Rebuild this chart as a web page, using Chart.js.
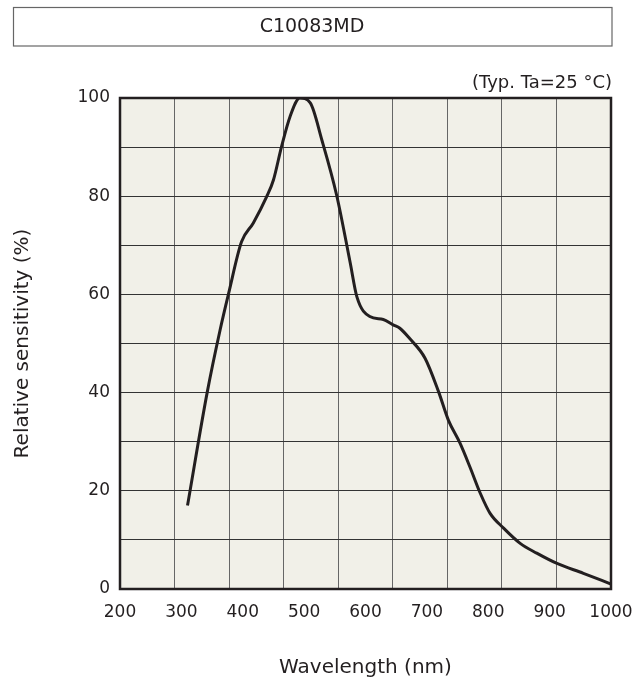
<!DOCTYPE html>
<html>
<head>
<meta charset="utf-8">
<script src="https://cdn.jsdelivr.net/npm/chart.js@4"></script>
<style>
  html, body { margin: 0; padding: 0; background: #fff; }
  #wrap { width: 644px; height: 682px; }
</style>
</head>
<body>
<div id="wrap"><canvas id="specChart" width="644" height="682"></canvas></div>
<script>
// spectral response data
const wavelengths = [310, 342, 363, 377, 398, 417, 439, 450, 463, 477, 493, 510, 529, 553, 575, 586, 607, 629, 645, 656, 672, 697, 719, 735, 754, 770, 787, 803, 825, 852, 879, 912, 955, 1000];
const sensitivity = [17, 40, 52.7, 60.2, 70.7, 74.5, 79.9, 83.3, 90, 96.2, 100, 99, 91.4, 80.2, 66.5, 59.5, 55.5, 54.9, 53.8, 53.1, 51, 47, 40.2, 34.4, 29.7, 24.9, 19.5, 15.4, 12.4, 9.3, 7.3, 5.2, 3.2, 1];
const xTicks = [200, 300, 400, 500, 600, 700, 800, 900, 1000];
const yTicks = [0, 20, 40, 60, 80, 100];

const FONT = '"DejaVu Sans", sans-serif';
const TEXT = '#231f20';

// plot background + frame + header box
const decor = {
  id: 'decor',
  beforeDraw(chart) {
    const { ctx, chartArea: a } = chart;
    ctx.save();
    ctx.fillStyle = '#f1f0e8';
    ctx.fillRect(a.left, a.top, a.right - a.left, a.bottom - a.top);
    ctx.restore();
  },
  afterDraw(chart) {
    const { ctx, chartArea: a } = chart;
    ctx.save();
    ctx.strokeStyle = '#231f20';
    ctx.lineWidth = 2.5;
    ctx.strokeRect(a.left, a.top, a.right - a.left, a.bottom - a.top);

    // header box
    ctx.strokeStyle = '#666';
    ctx.lineWidth = 1.2;
    ctx.strokeRect(13.5, 7.5, 598.5, 38.5);
    ctx.fillStyle = TEXT;
    ctx.font = '19px ' + FONT;
    ctx.textAlign = 'center';
    ctx.textBaseline = 'middle';
    ctx.fillText('C10083MD', 312, 27);

    ctx.font = '18px ' + FONT;
    ctx.textAlign = 'right';
    ctx.fillText('(Typ. Ta=25 \u00B0C)', 612, 83);
    ctx.restore();
  }
};

const ctx = document.getElementById('specChart').getContext('2d');
const specChart = new Chart(ctx, {
  type: 'line',
  data: {
    datasets: [{
      data: wavelengths.map((w, i) => ({ x: w, y: sensitivity[i] })),
      borderColor: '#231f20',
      borderWidth: 3,
      pointRadius: 0,
      fill: false,
      cubicInterpolationMode: 'monotone'
    }]
  },
  options: {
    responsive: false,
    animation: false,
    layout: { padding: { top: 98, right: 33, left: 0, bottom: 0 } },
    plugins: { legend: { display: false }, tooltip: { enabled: false } },
    scales: {
      x: {
        type: 'linear',
        min: 200,
        max: 1000,
        afterBuildTicks: s => { s.ticks = xTicks.map(v => ({ value: v })); },
        grid: { display: false },
        border: { display: false },
        ticks: { color: TEXT, font: { family: FONT, size: 17 }, padding: 5, maxRotation: 0, callback: v => String(v) },
        title: { display: true, text: 'Wavelength (nm)', color: TEXT, font: { family: FONT, size: 20 }, padding: { top: 0, bottom: 2 } },
        afterFit: s => { s.height = 93; }
      },
      // 9 equal grid divisions across the plot (not tied to the labels)
      xGrid: {
        type: 'linear',
        position: 'top',
        min: 0,
        max: 9,
        ticks: { display: false, stepSize: 1 },
        grid: { color: '#666', lineWidth: 1, drawTicks: false },
        border: { display: false },
        afterFit: s => { s.height = 0; }
      },
      y: {
        min: 0,
        max: 100,
        afterBuildTicks: s => { s.ticks = []; for (let v = 0; v <= 100; v += 10) s.ticks.push({ value: v }); },
        grid: { color: '#333', lineWidth: 1, drawTicks: false },
        border: { display: false },
        ticks: {
          color: TEXT,
          font: { family: FONT, size: 17 },
          padding: 10,
          callback: v => (yTicks.includes(v) ? String(v) : '')
        },
        title: { display: true, text: 'Relative sensitivity (%)', color: TEXT, font: { family: FONT, size: 20 }, padding: { top: 11, bottom: 0 } },
        afterFit: s => { s.width = 120; }
      }
    }
  },
  plugins: [decor]
});
</script>
</body>
</html>
